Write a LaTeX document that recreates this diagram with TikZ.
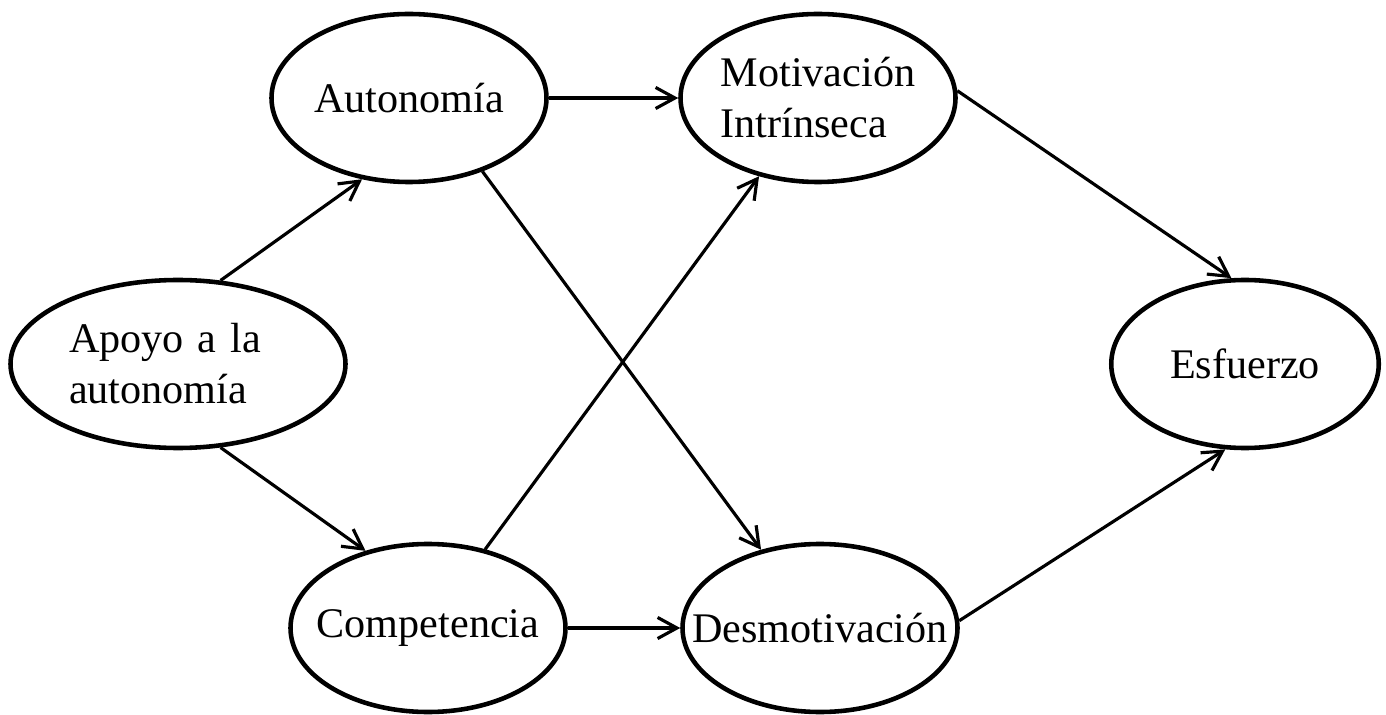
\documentclass[tikz,border=0pt]{standalone}
\usepackage{fontspec}
\setmainfont{Liberation Serif}
\usetikzlibrary{arrows.meta, positioning, shapes.geometric}

\begin{document}
\begin{tikzpicture}[
  var/.style={draw, ellipse, line width=2.6pt, minimum width=5.5cm, minimum height=3.36cm, inner xsep=-1cm, inner ysep=0pt, align=center, font=\fontsize{24}{29}\selectfont},
  arrow/.style={-{Straight Barb[length=11pt, width=12pt]}, line width=1.8pt},
  on grid
]

\useasboundingbox (0,0) rectangle (27.72,-14.3);

% Apoyo a la autonomía
\node[var, minimum width=6.7cm, text width=4.36cm, align=left] (apoyo) at (3.56,-7.28) {Apoyo a la\\autonomía};

% Necesidades
\node[var, above right=5.32cm and 4.62cm of apoyo] (auto) {Autonomía};
\node[var, below right=5.28cm and 5cm of apoyo] (comp) {Competencia};

% Motivación
\node[var, right=8.18cm of auto, align=left] (motiv) {Motivación\\Intrínseca};
\node[var, right=7.84cm of comp] (desmot) {Desmotivación};

% Esfuerzo
\node[var, minimum width=5.35cm, right=21.34cm of apoyo] (esf) {Esfuerzo};

% Flechas
\draw[arrow] (apoyo.63) -- (auto.-120);
\draw[arrow] (apoyo.-63) -- (comp.129);
\draw[arrow] (auto.east) -- (motiv.west);
\draw[arrow] (auto.-45) -- (desmot.127);
\draw[arrow] (comp.54) -- (motiv.-127);
\draw[arrow] (comp.east) -- (desmot.west);
\draw[arrow] (motiv.3) -- (esf.99);
\draw[arrow] (desmot.3) -- (esf.-103);

\end{tikzpicture}
\end{document}
